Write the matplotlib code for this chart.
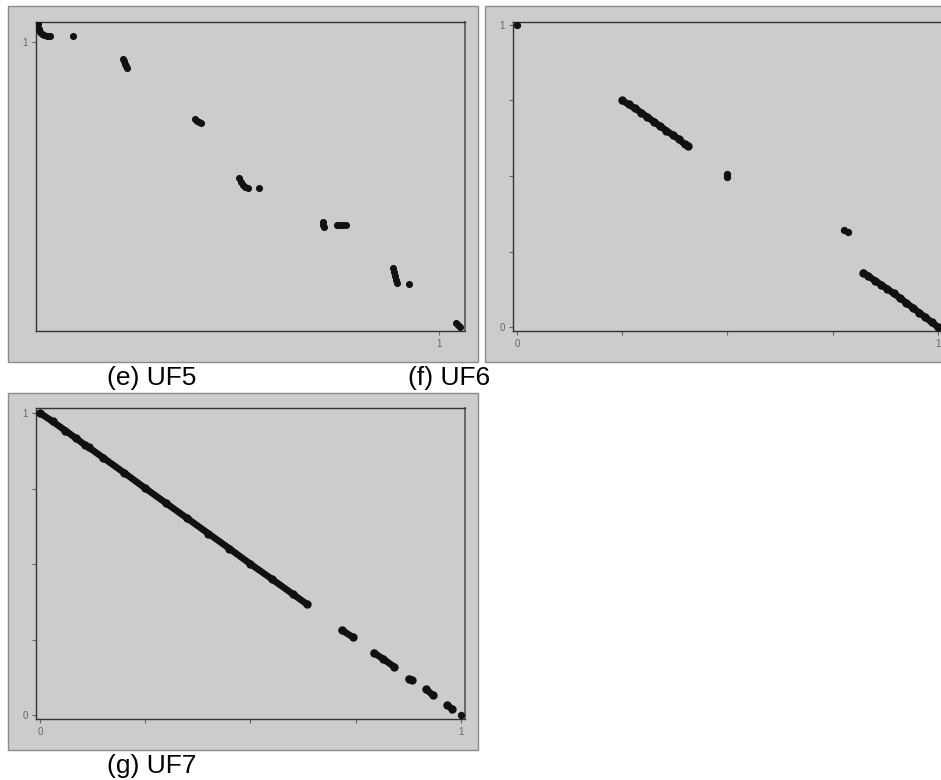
import matplotlib
matplotlib.use('Agg')
import matplotlib.pyplot as plt
from matplotlib.patches import Rectangle

plt.rcParams['font.family'] = ['Liberation Sans', 'DejaVu Sans']

# --- UF5: clusters of points
uf5_x = [0.000, 0.002, 0.005, 0.010, 0.015, 0.022, 0.030,
         0.087,
         0.212, 0.214, 0.217, 0.219, 0.222,
         0.392, 0.397, 0.401, 0.406,
         0.501, 0.506, 0.511, 0.516, 0.524,
         0.551,
         0.711, 0.711, 0.713,
         0.746, 0.753, 0.761, 0.768,
         0.885, 0.888, 0.890, 0.893, 0.895,
         0.925,
         1.042, 1.047, 1.052]
uf5_y = [1.062, 1.046, 1.035, 1.028, 1.023, 1.019, 1.019,
         1.021,
         0.940, 0.933, 0.923, 0.915, 0.908,
         0.729, 0.722, 0.718, 0.715,
         0.521, 0.507, 0.496, 0.489, 0.486,
         0.486,
         0.366, 0.356, 0.349,
         0.356, 0.356, 0.356, 0.356,
         0.204, 0.190, 0.176, 0.162, 0.151,
         0.148,
         0.011, 0.004, -0.004]

# --- UF6: isolated points and two dense stretches
uf6_dots_x = [0.000, 0.498, 0.499, 0.777, 0.787]
uf6_dots_y = [1.000, 0.508, 0.497, 0.322, 0.316]
uf6_seg1_x = [0.250, 0.265, 0.280, 0.295, 0.310, 0.325, 0.340, 0.355, 0.370, 0.385, 0.398, 0.407]
uf6_seg1_y = [0.750, 0.737, 0.724, 0.710, 0.695, 0.680, 0.665, 0.650, 0.636, 0.621, 0.606, 0.600]
uf6_seg2_x = [0.823, 0.835, 0.850, 0.865, 0.880, 0.895, 0.910, 0.925, 0.940, 0.955, 0.970, 0.985, 1.000]
uf6_seg2_y = [0.180, 0.168, 0.154, 0.140, 0.126, 0.111, 0.096, 0.080, 0.064, 0.048, 0.032, 0.016, 0.000]

# --- UF7: long stretch, then short pieces
uf7_seg1_x = [0.000, 0.030, 0.060, 0.085, 0.108]
uf7_seg1_y = [1.000, 0.972, 0.942, 0.917, 0.893]
uf7_seg2_x = [0.116, 0.150, 0.200, 0.250, 0.300, 0.350, 0.400, 0.450, 0.500, 0.550, 0.600, 0.635]
uf7_seg2_y = [0.886, 0.852, 0.802, 0.751, 0.701, 0.651, 0.601, 0.551, 0.500, 0.451, 0.401, 0.366]
uf7_seg3_x = [0.717, 0.744]
uf7_seg3_y = [0.281, 0.257]
uf7_seg4_x = [0.793, 0.815, 0.841]
uf7_seg4_y = [0.206, 0.186, 0.160]
uf7_seg5_x = [0.876, 0.884]
uf7_seg5_y = [0.120, 0.116]
uf7_seg6_x = [0.917, 0.934]
uf7_seg6_y = [0.085, 0.065]
uf7_seg7_x = [0.967, 0.979]
uf7_seg7_y = [0.033, 0.020]
uf7_dots_x = [0.999]
uf7_dots_y = [0.000]

tick_vals = [0, 0.25, 0.5, 0.75, 1]
tick_labels = ['0', '', '', '', '1']

W, H = 941, 780
fig = plt.figure(figsize=(W / 100, H / 100), dpi=100)
fig.patch.set_facecolor('white')

BG = '#cccccc'
DOT = '#111111'


def panel(x0, y0, x1, y1):
    # gray frame behind each plot, pixel box from top-left
    fig.patches.append(Rectangle((x0 / W, 1 - y1 / H), (x1 - x0) / W, (y1 - y0) / H,
                                 transform=fig.transFigure, facecolor=BG,
                                 edgecolor='#8a8a8a', linewidth=1.0, zorder=-5))


def make_axes(x0, y0, x1, y1):
    ax = fig.add_axes([x0 / W, 1 - y1 / H, (x1 - x0) / W, (y1 - y0) / H])
    ax.set_facecolor(BG)
    for s in ['left', 'bottom', 'top']:
        ax.spines[s].set_color('#333333')
        ax.spines[s].set_linewidth(1.0)
    ax.spines['right'].set_color('#666666')
    ax.spines['right'].set_linewidth(1.4)
    ax.tick_params(direction='out', length=3, width=0.8, color='#666666',
                   labelsize=7, labelcolor='#666666', pad=3)
    return ax


def draw_seg(ax, x, y):
    ax.plot(x, y, '-o', color=DOT, lw=4.8, ms=5.0, solid_capstyle='round', zorder=3)


# (e) UF5
panel(8, 6, 478, 362)
ax_e = make_axes(36, 22, 465, 331)
ax_e.scatter(uf5_x, uf5_y, s=26, color=DOT, linewidths=0, zorder=3)
ax_e.set_xlim(-0.005, 1.065)
ax_e.set_ylim(-0.018, 1.070)
ax_e.set_xticks([1])
ax_e.set_xticklabels(['1'])
ax_e.set_yticks([1])
ax_e.set_yticklabels(['1'])

# (f) UF6
panel(485, 6, 946, 362)
ax_f = make_axes(513, 22, 943, 331)
draw_seg(ax_f, uf6_seg1_x, uf6_seg1_y)
draw_seg(ax_f, uf6_seg2_x, uf6_seg2_y)
ax_f.scatter(uf6_dots_x, uf6_dots_y, s=28, color=DOT, linewidths=0, zorder=3)
ax_f.set_xlim(-0.0095, 1.012)
ax_f.set_ylim(-0.0132, 1.0099)
ax_f.set_xticks(tick_vals)
ax_f.set_xticklabels(tick_labels)
ax_f.set_yticks(tick_vals)
ax_f.set_yticklabels(tick_labels)

# (g) UF7
panel(8, 393, 478, 750)
ax_g = make_axes(36, 408, 465, 719)
for sx, sy in [(uf7_seg1_x, uf7_seg1_y), (uf7_seg2_x, uf7_seg2_y), (uf7_seg3_x, uf7_seg3_y),
               (uf7_seg4_x, uf7_seg4_y), (uf7_seg5_x, uf7_seg5_y), (uf7_seg6_x, uf7_seg6_y),
               (uf7_seg7_x, uf7_seg7_y)]:
    draw_seg(ax_g, sx, sy)
ax_g.scatter(uf7_dots_x, uf7_dots_y, s=28, color=DOT, linewidths=0, zorder=3)
ax_g.set_xlim(-0.0095, 1.0095)
ax_g.set_ylim(-0.0132, 1.0166)
ax_g.set_xticks(tick_vals)
ax_g.set_xticklabels(tick_labels)
ax_g.set_yticks(tick_vals)
ax_g.set_yticklabels(tick_labels)

# captions
fig.text(152 / W, 1 - 378 / H, '(e) UF5', ha='center', va='center', fontsize=19)
fig.text(449 / W, 1 - 378 / H, '(f) UF6', ha='center', va='center', fontsize=19)
fig.text(152 / W, 1 - 766 / H, '(g) UF7', ha='center', va='center', fontsize=19)

fig.savefig('out.png', dpi=100)
